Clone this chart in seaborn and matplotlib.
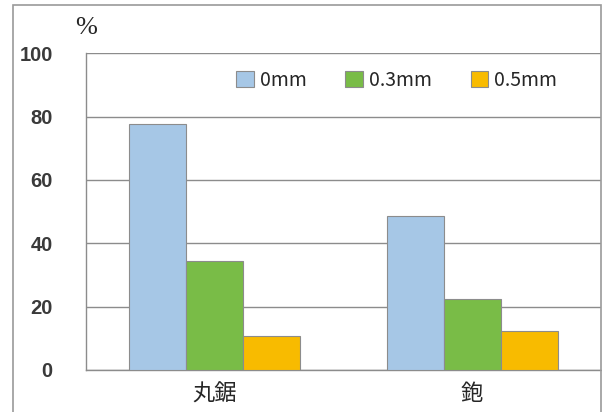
import pandas as pd
import seaborn as sns
import matplotlib.pyplot as plt
from matplotlib.patches import Rectangle

# data
tools = ['丸鋸', '鉋']
gaps = ['0mm', '0.3mm', '0.5mm']
val_0mm = [77.6, 48.5]
val_03mm = [34.4, 22.4]
val_05mm = [10.7, 12.2]

rows = []
for i, t in enumerate(tools):
    for g, v in zip(gaps, [val_0mm[i], val_03mm[i], val_05mm[i]]):
        rows.append({'tool': t, 'gap': g, 'pct': v})
df = pd.DataFrame(rows)

colors = {'0mm': '#A6C7E6', '0.3mm': '#79BC47', '0.5mm': '#F8BB00'}

sns.set_style('white')
plt.rcParams['font.family'] = ['Noto Sans CJK JP', 'DejaVu Sans']

fig = plt.figure(figsize=(6.02, 4.12), dpi=100)
ax = fig.add_axes([0.143, 0.102, 0.855, 0.769])

sns.barplot(data=df, x='tool', y='pct', hue='gap', palette=colors, width=0.665,
            saturation=1, edgecolor='#8C8C8C', linewidth=0.8, ax=ax, zorder=3)

ax.set_ylim(0, 100)
ax.set_yticks(range(0, 101, 20))
ax.set_xlim(-0.5, 1.5)
ax.yaxis.grid(True, color='#8C8C8C', linewidth=1.0, zorder=0)
ax.set_axisbelow(True)
for s in ['top', 'right']:
    ax.spines[s].set_visible(False)
for s in ['left', 'bottom']:
    ax.spines[s].set_color('#8C8C8C')
    ax.spines[s].set_linewidth(1.0)
ax.set_xlabel('')
ax.set_ylabel('')

# minor ticks at category boundaries
ax.set_xticks([-0.5, 0.5, 1.5], minor=True)
ax.tick_params(axis='x', which='minor', length=6, color='#8C8C8C', width=1)
ax.tick_params(axis='x', which='major', length=0, pad=9, labelsize=16)
ax.tick_params(axis='y', length=9, color='#8C8C8C', width=1, pad=15, labelsize=14.5)
for lab in ax.get_yticklabels():
    lab.set_family(['Liberation Sans', 'DejaVu Sans'])
    lab.set_fontweight('bold')
    lab.set_color('#3A3A3A')

ax.legend(ncol=3, loc='center right', bbox_to_anchor=(0.915, 0.915), frameon=False,
          fontsize=14, handlelength=0.9, handleheight=0.9, handletextpad=0.3,
          columnspacing=2.0, borderaxespad=0, borderpad=0)

fig.text(0.143, 0.905, '%', fontsize=19, family=['Liberation Serif'], ha='center', va='bottom')

# outer frame
fig.patches.append(Rectangle((0.022, -0.05), 0.976, 1.038, transform=fig.transFigure,
                             fill=False, edgecolor='#9A9A9A', linewidth=1.2))

fig.savefig('out.png', dpi=100)
